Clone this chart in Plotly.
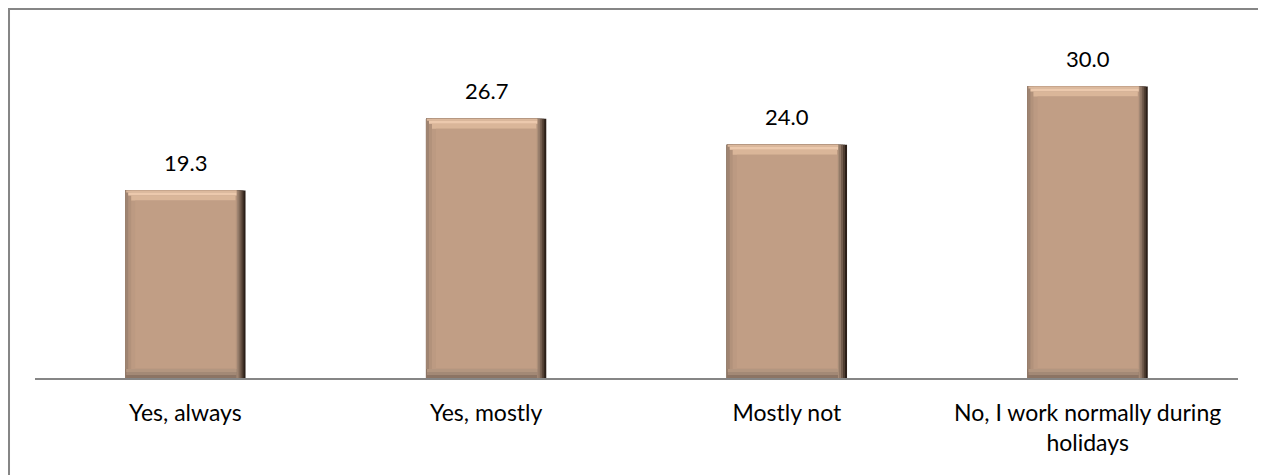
import plotly.graph_objects as go

categorias = ['Yes, always', 'Yes, mostly', 'Mostly not', 'No, I work normally during<br>holidays']
valores = [19.3, 26.7, 24.0, 30.0]
etiquetas = ['19.3', '26.7', '24.0', '30.0']

ymax = 35
ancho_barra = 0.40
# pixeles del area de trazado
ancho_px = 1203
alto_px = 340
px = len(categorias) / ancho_px   # 1 px en unidades de categoria
py = ymax / alto_px               # 1 px en unidades de y

fig = go.Figure()


def capa(izq, der, abajo, arriba, color):
    # barra del bisel recortada unos pixeles por cada lado
    fig.add_trace(go.Bar(
        x=categorias,
        y=[v - (abajo + arriba) * py for v in valores],
        base=abajo * py,
        offset=-ancho_barra / 2 + izq * px,
        width=ancho_barra - (izq + der) * px,
        marker=dict(color=color, line=dict(width=0)),
        hoverinfo='skip'))


def franja_sup(izq, der, desde, hasta, color):
    # franja horizontal del bisel superior (pixeles medidos desde arriba)
    fig.add_trace(go.Bar(
        x=categorias,
        y=[(hasta - desde) * py for v in valores],
        base=[v - hasta * py for v in valores],
        offset=-ancho_barra / 2 + izq * px,
        width=ancho_barra - (izq + der) * px,
        marker=dict(color=color, line=dict(width=0)),
        hoverinfo='skip'))


# borde derecho oscuro (degradado)
capa(0, 0, 0, 0, '#2b1f18')
capa(0, 2, 0, 0, '#4f3d31')
capa(0, 4, 0, 0, '#725c4d')
capa(0, 6, 0, 0, '#937a68')
capa(0, 8, 0, 0, '#a98e7a')
# bisel inferior
capa(0, 9, 0, 0, '#8c7464')
capa(1, 9, 3, 0, '#a38976')
capa(1, 9, 6, 0, '#b39680')
# bisel izquierdo
capa(0, 9, 9, 0, '#9f8471')
capa(3, 9, 9, 0, '#b2927b')
capa(6, 9, 9, 0, '#bc9a82')
# bisel superior claro
franja_sup(1, 9, 0, 2, '#dcb99d')
franja_sup(3, 9, 2, 5, '#ecc9ad')
franja_sup(6, 10, 5, 10, '#dab699')
# cara principal
capa(10, 10, 10, 10, '#c19e85')

anotaciones = []
for c, v, t in zip(categorias, valores, etiquetas):
    anotaciones.append(dict(x=c, y=v, text=t, showarrow=False, yanchor='bottom', yshift=13,
                            font=dict(family='Lato', size=22, color='#000000')))

fig.update_layout(
    width=1266, height=475,
    barmode='overlay',
    showlegend=False,
    paper_bgcolor='white', plot_bgcolor='white',
    margin=dict(l=27, r=36, t=30, b=105),
    font=dict(family='Lato', size=22, color='#000000'),
    xaxis=dict(showline=True, linecolor='#868686', linewidth=1.5, showgrid=False,
               ticks='outside', ticklen=14, tickcolor='rgba(0,0,0,0)',
               tickfont=dict(family='Lato', size=23)),
    yaxis=dict(range=[0, ymax], visible=False, showgrid=False),
    annotations=anotaciones,
    shapes=[dict(type='rect', xref='paper', yref='paper',
                 x0=-0.0216, x1=1.0183, y0=-0.3, y1=1.085,
                 line=dict(color='#868686', width=2), layer='below')],
)

fig.write_html("out.html")
